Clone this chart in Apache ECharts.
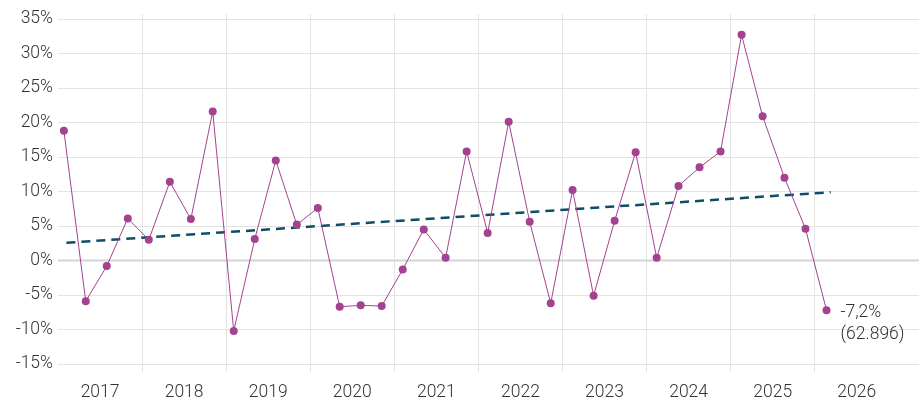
<!DOCTYPE html>
<html>
<head>
<meta charset="utf-8">
<script src="https://cdn.jsdelivr.net/npm/echarts@6/dist/echarts.min.js"></script>
<style>html,body{margin:0;padding:0;background:#fff}#c{width:919px;height:403px}</style>
</head>
<body>
<div id="c"></div>
<script>
// x positions in decimal years
var dates = [2017.07,2017.33,2017.58,2017.83,2018.08,2018.33,2018.58,2018.84,2019.09,2019.34,2019.59,2019.84,
  2020.09,2020.35,2020.60,2020.85,2021.10,2021.35,2021.61,2021.86,2022.11,2022.36,2022.61,2022.86,
  2023.12,2023.37,2023.62,2023.87,2024.12,2024.38,2024.63,2024.88,2025.13,2025.38,2025.64,2025.89,2026.14];
var values = [18.8,-5.9,-0.8,6.1,3.0,11.4,6.0,21.6,-10.2,3.1,14.5,5.2,
  7.6,-6.7,-6.5,-6.6,-1.3,4.5,0.4,15.8,4.0,20.1,5.6,-6.2,
  10.2,-5.1,5.75,15.7,0.4,10.8,13.5,15.8,32.7,20.9,12.0,4.6,-7.2];
var trendDates = [2017.10, 2026.19];
var trendValues = [2.57, 9.9];
var yearLabels = ['2017','2018','2019','2020','2021','2022','2023','2024','2025','2026'];
var lastLabel = ['-7,2%','(62.896)'];

var font = 'Roboto';
var fs = 17.5;
var xMin = 0, xMax = 10.24; // years since 2017
function rel(d){ return d - 2017; }
var seriesData = dates.map(function(d,i){ return [rel(d), values[i]]; });
var trendData = trendDates.map(function(d,i){ return [rel(d), trendValues[i]]; });

var chart = echarts.init(document.getElementById('c'));
chart.setOption({
  animation:false,
  grid:[
    {left:58, right:0, top:19, bottom:39, containLabel:false},
    {left:142.1, right:104.3, top:14, bottom:31, containLabel:false}
  ],
  xAxis:[
    {type:'value', gridIndex:0, min:xMin, max:xMax, interval:0.5,
      axisLine:{show:false}, axisTick:{show:false}, splitLine:{show:false},
      axisLabel:{show:true, margin:20, fontFamily:font, fontSize:fs, fontWeight:300, color:'#333',
        showMaxLabel:false, showMinLabel:false,
        formatter:function(v){ var r = Math.round(v*2); if (r%2===1){ var k=(r-1)/2; return yearLabels[k]||''; } return ''; }}},
    {type:'value', gridIndex:1, min:1, max:9, interval:1,
      axisLine:{show:false}, axisTick:{show:false}, axisLabel:{show:false},
      splitLine:{show:true, showMinLine:true, showMaxLine:true, lineStyle:{color:'#e3e3e3', width:1}}}
  ],
  yAxis:[
    {type:'value', gridIndex:0, min:-15, max:35, interval:5,
      axisLine:{show:false}, axisTick:{show:false},
      axisLabel:{margin:5, fontFamily:font, fontSize:fs, fontWeight:300, color:'#333',
        formatter:function(v){ return String(v) + '%'; }},
      splitLine:{show:true, lineStyle:{color:'#e3e3e3', width:1}}},
    {type:'value', gridIndex:1, min:0, max:1, show:false}
  ],
  series:[
    {type:'line', xAxisIndex:1, yAxisIndex:1, data:[], silent:true},
    {type:'line', xAxisIndex:0, yAxisIndex:0, data:[[xMin,0],[xMax,0]], symbol:'none',
      lineStyle:{color:'#d4d4d4', width:2}, silent:true, z:1},
    {type:'line', xAxisIndex:0, yAxisIndex:0, data:trendData, symbol:'none',
      lineStyle:{color:'#0d4d68', width:2.5, type:[9,6]}, z:3},
    {type:'line', xAxisIndex:0, yAxisIndex:0, data:seriesData,
      symbol:'circle', symbolSize:8,
      itemStyle:{color:'#a4428f'}, lineStyle:{color:'#a4428f', width:1}, z:4,
      label:{show:true, formatter:function(p){ return p.dataIndex===values.length-1 ? lastLabel.join('\n') : ''; },
        position:'right', distance:10, offset:[0,13], fontFamily:font, fontSize:fs, fontWeight:300, color:'#333', lineHeight:22, align:'left'}}
  ]
});
</script>
</body>
</html>
